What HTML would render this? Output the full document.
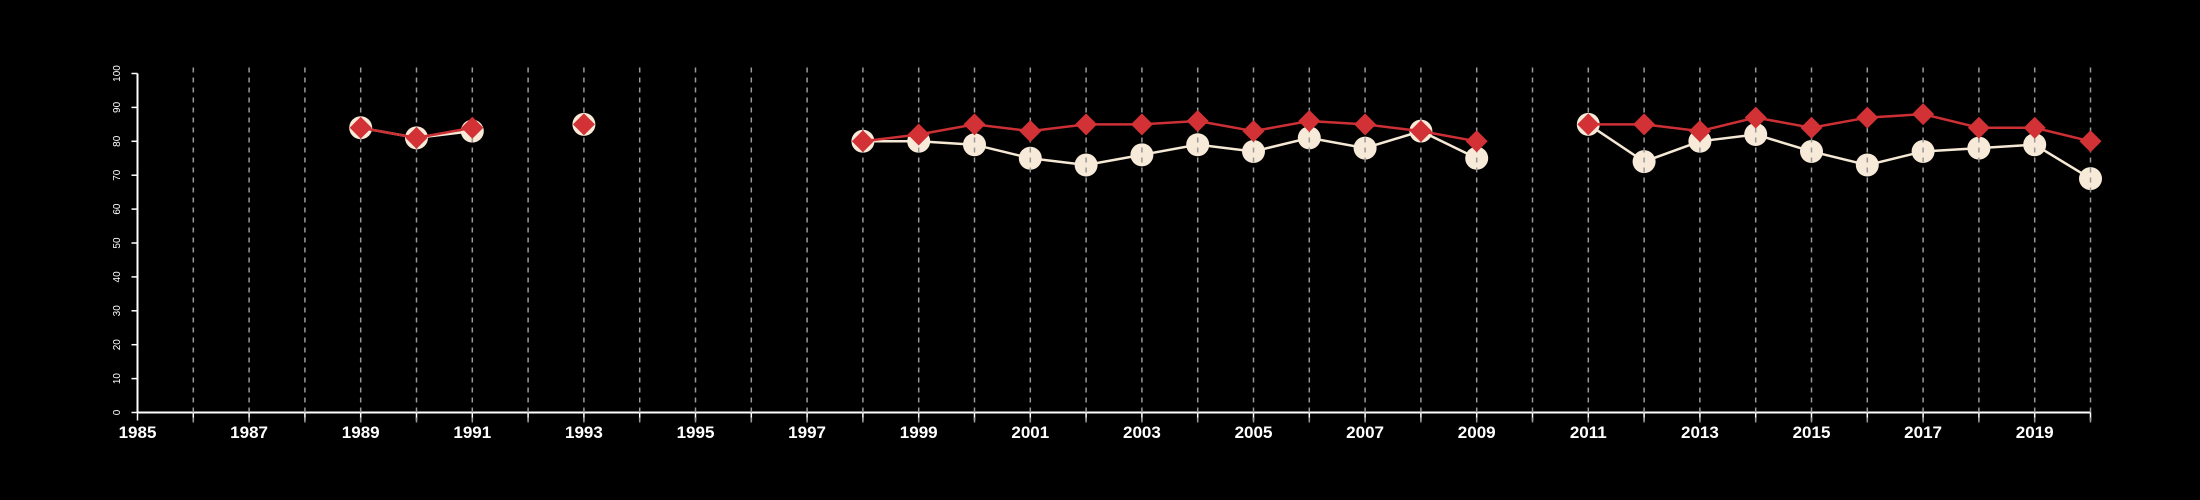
<!DOCTYPE html>
<html><head><meta charset="utf-8"><style>
html,body{margin:0;padding:0;background:#000;}
svg{display:block;}
text{font-family:"Liberation Sans",sans-serif;fill:#fff;}
</style></head><body>
<svg id="chart" width="2200" height="500"></svg>
<script>
const years = [1989,1990,1991,1992,1993,1994,1995,1996,1997,1998,1999,2000,2001,2002,2003,2004,2005,2006,2007,2008,2009,2010,2011,2012,2013,2014,2015,2016,2017,2018,2019,2020];
const seriesA = [84,81,83,null,85,null,null,null,null,80,80,79,75,73,76,79,77,81,78,83,75,null,85,74,80,82,77,73,77,78,79,69];
const seriesB = [84,81,84,null,85,null,null,null,null,80,82,85,83,85,85,86,83,86,85,83,80,null,85,85,83,87,84,87,88,84,84,80];
const yTicks = [0,10,20,30,40,50,60,70,80,90,100];
const xLabels = [1985,1987,1989,1991,1993,1995,1997,1999,2001,2003,2005,2007,2009,2011,2013,2015,2017,2019];

const NS="http://www.w3.org/2000/svg";
const svg=document.getElementById('chart');
const x0=137.5, pxYear=55.8, yBase=412.5, pxUnit=3.39;
const X=yr=>x0+(yr-1985)*pxYear;
const Y=v=>yBase-v*pxUnit;
function mk(tag,attrs,parent){const e=document.createElementNS(NS,tag);for(const k in attrs)e.setAttribute(k,attrs[k]);(parent||svg).appendChild(e);return e;}

// axes
const ax=mk('line',{x1:x0,y1:Y(100),x2:x0,y2:yBase,stroke:'#fff','stroke-width':2});


const bx=mk('line',{x1:x0,y1:yBase,x2:X(2020),y2:yBase,stroke:'#fff','stroke-width':2});


yTicks.forEach(t=>{
  const l=mk('line',{x1:x0-6,y1:Y(t),x2:x0,y2:Y(t),stroke:'#fff','stroke-width':1.5});
  
  
  const tx=mk('text',{x:0,y:0,'font-size':10,'text-anchor':'middle',transform:`translate(${x0-20},${Y(t)}) rotate(-90)`,'dominant-baseline':'middle'});
  tx.textContent=t;
  
  
});
for(let yr=1985;yr<=2020;yr++){
  const t=mk('line',{x1:X(yr),y1:yBase,x2:X(yr),y2:yBase+8,stroke:'#fff','stroke-width':1.5});
  
  
}
xLabels.forEach(yr=>{
  const tx=mk('text',{x:X(yr),y:438,'font-size':17,'font-weight':'bold','text-anchor':'middle'});
  tx.textContent=yr;
  
  
});

function drawLine(vals,color,name){
  let seg=[];
  const flush=()=>{if(seg.length>1){const p=mk('polyline',{points:seg.join(' '),fill:'none',stroke:color,'stroke-width':2.5});
    
    }seg=[];};
  vals.forEach((v,i)=>{if(v==null)flush();else seg.push(X(years[i])+','+Y(v));});
  flush();
}
drawLine(seriesA,'#f5e8d5','series-a');
seriesA.forEach((v,i)=>{if(v==null)return;
  const c=mk('circle',{cx:X(years[i]),cy:Y(v),r:11.5,fill:'#f8ead8'});
  
  
});
// grid
for(let yr=1986;yr<=2020;yr++){
  const g=mk('line',{x1:X(yr),y1:Y(100)-6,x2:X(yr),y2:yBase+14,stroke:'#999','stroke-width':1.5,'stroke-dasharray':'5,5'});
  
  
}
drawLine(seriesB,'#cc3035','series-b');
seriesB.forEach((v,i)=>{if(v==null)return;
  const cx=X(years[i]),cy=Y(v),s=11;
  const d=mk('polygon',{points:`${cx},${cy-s} ${cx+s},${cy} ${cx},${cy+s} ${cx-s},${cy}`,fill:'#d23236'});
  
  
});
</script>
</body></html>
